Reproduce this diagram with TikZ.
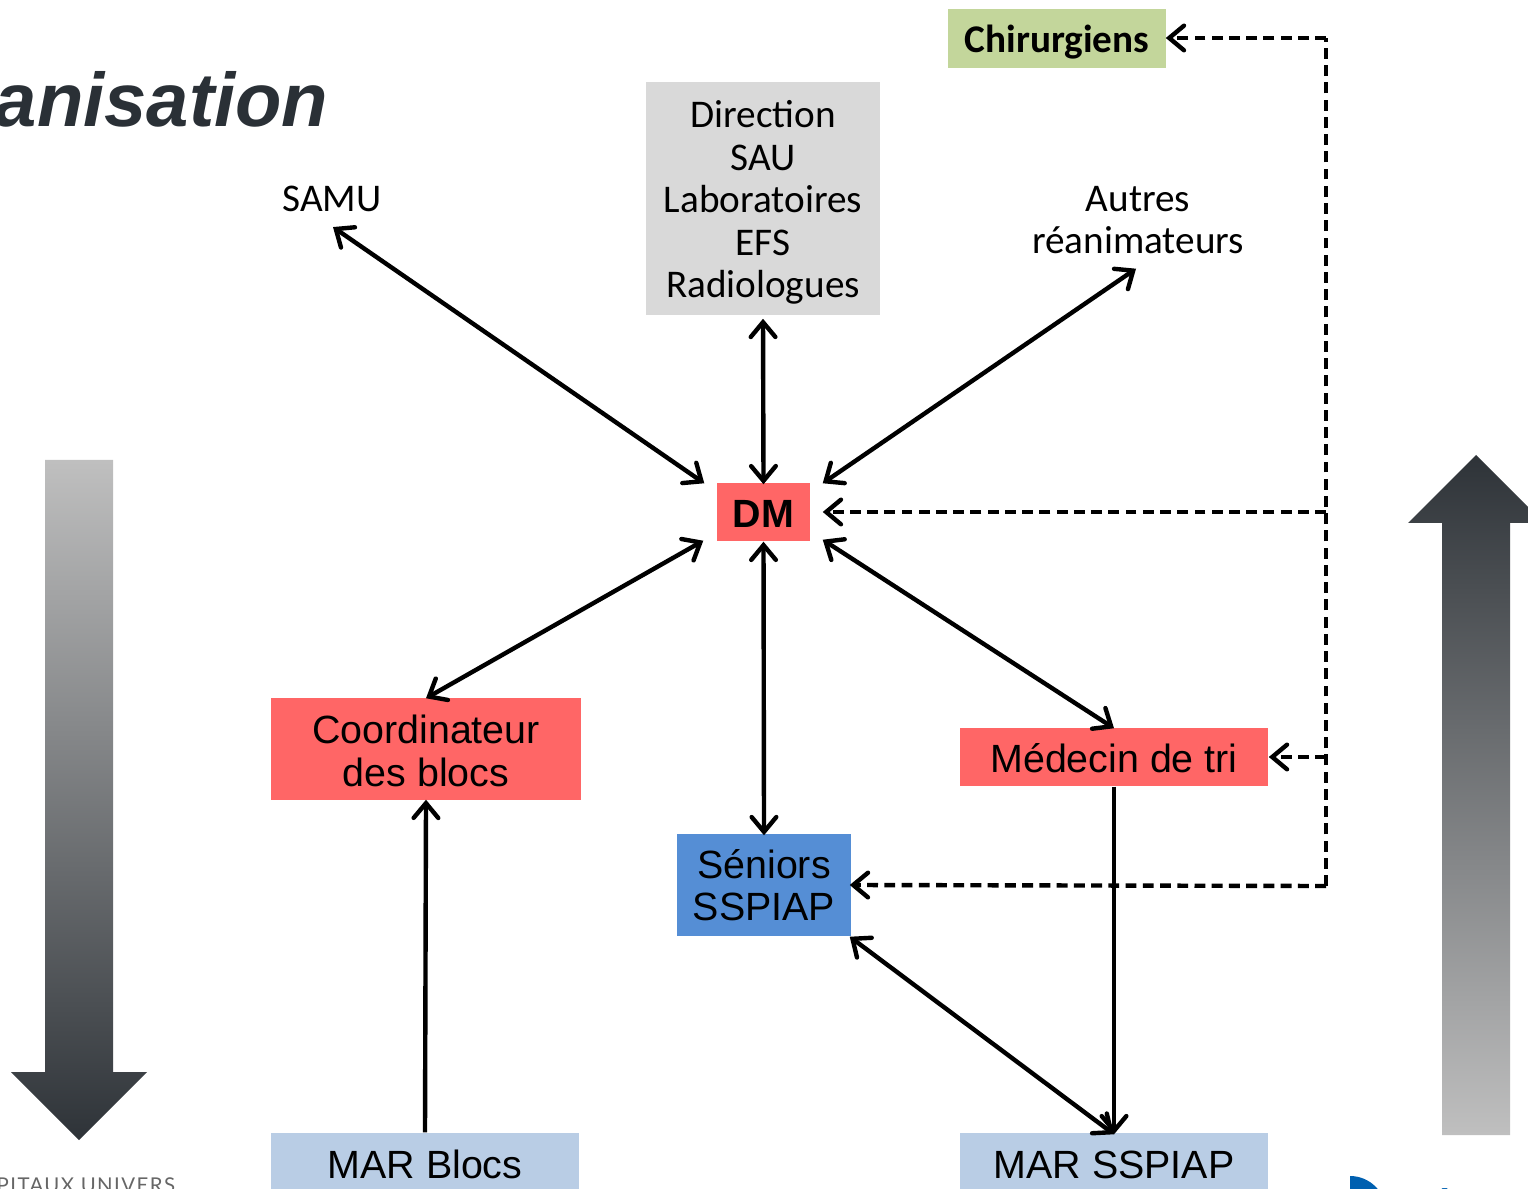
\documentclass[tikz,border=0pt]{standalone}
\usepackage{fontspec}
\usepackage{xcolor}
\usetikzlibrary{arrows.meta}
\setmainfont{Liberation Sans}
\newfontfamily\carlitofont{Carlito}
\newfontfamily\bandeaufont[LetterSpace=7]{Lato}
\definecolor{rouge}{HTML}{FF6666}
\definecolor{bleu}{HTML}{558ED5}
\definecolor{bleuclair}{HTML}{B9CDE5}
\definecolor{grisclair}{HTML}{D9D9D9}
\definecolor{vert}{HTML}{C3D69B}
\definecolor{titre}{HTML}{2A3036}
\definecolor{fleche}{HTML}{2E3338}
\definecolor{logo}{HTML}{0060B0}
\tikzset{
	box/.style={inner sep=0pt, align=center, text=black, font=\fontsize{11.2}{12}\selectfont},
	calibri/.style={inner sep=0pt, align=center, text=black, font=\carlitofont\fontsize{11.15}{12.1}\selectfont},
	both/.style={line width=1.25pt, {Straight Barb[length=4.2pt,width=7pt,line cap=round]}-{Straight Barb[length=4.2pt,width=7pt,line cap=round]}},
	single/.style={line width=1.25pt, -{Straight Barb[length=4.2pt,width=7pt,line cap=round]}},
	pointille/.style={line width=1.25pt, dash pattern=on 3.1pt off 1.8pt},
	pointfleche/.style={pointille, -{Straight Barb[length=4.2pt,width=7pt,line cap=round]}}
}
\begin{document}
\begin{tikzpicture}[x=0.01cm, y=-0.01cm]
	\useasboundingbox (0,0) rectangle (1528,1189);
	\clip (0,0) rectangle (1528,1189);
	\node[anchor=base east, inner sep=0pt, text=titre, font=\bfseries\itshape\fontsize{21.6}{24}\selectfont](titre) at (329,127) {anisation};
	\shade[top color=black!25, middle color=black!50, bottom color=fleche] (45,460) -- (113,460) -- (113,1072) -- (147,1072) -- (79,1140) -- (11,1072) -- (45,1072) -- cycle;
	\shade[top color=fleche, middle color=black!55, bottom color=black!25] (1442,1135) -- (1510,1135) -- (1510,523) -- (1544,523) -- (1476,455) -- (1408,523) -- (1442,523) -- cycle;
	\node[anchor=base west, inner sep=0pt, text=black!60, font=\bandeaufont\fontsize{5.8}{6}\selectfont](bandeau) at (-4,1192) {PITAUX UNIVERS};
	\fill[logo] (1350,1176) arc[start angle=-90, end angle=0, radius=36] -- (1350,1212) -- cycle;
	\node[anchor=base west, inner sep=0pt, text=logo, font=\bfseries\fontsize{11.4}{12}\selectfont](hopital) at (1400,1224) {HÔPITAUX};
	\node[calibri, fill=vert, minimum width=2.18cm, minimum height=0.59cm, text height=8pt, text depth=0pt, font=\carlitofont\bfseries\fontsize{11.15}{12.1}\selectfont](chir) at (1057,38.5) {Chirurgiens};
	\node[calibri, fill=grisclair, minimum width=2.34cm, minimum height=2.33cm](labo) at (763,198.5) {\rule{0pt}{10.1pt}Direction\\SAU\\Laboratoires\\EFS\\Radiologues};
	\node[calibri](samu) at (332,198.5) {SAMU};
	\node[calibri](autres) at (1138,220) {Autres\\réanimateurs};
	\node[box, fill=rouge, minimum width=0.93cm, minimum height=0.58cm, text height=8.7pt, text depth=0pt, font=\bfseries\fontsize{11.2}{12}\selectfont](dm) at (763.5,512) {DM};
	\node[box, fill=rouge, minimum width=3.1cm, minimum height=1.02cm](coord) at (426,749) {\rule{0pt}{9.2pt}Coordinateur\\des blocs};
	\node[box, fill=rouge, minimum width=3.08cm, minimum height=0.58cm, text height=8.7pt, text depth=0pt](tri) at (1114,757) {Médecin de tri};
	\node[box, fill=bleu, minimum width=1.74cm, minimum height=1.02cm](seniors) at (764,885) {Séniors\\SSPIAP};
	\node[box, fill=bleuclair, minimum width=3.08cm, minimum height=0.58cm, text height=9.1pt, text depth=0pt](marblocs) at (425,1162) {MAR Blocs};
	\node[box, fill=bleuclair, minimum width=3.08cm, minimum height=0.58cm, text height=9.1pt, text depth=0pt](marsspiap) at (1114,1162) {MAR SSPIAP};
	\coordinate(haut) at (1326,38);
	\coordinate(bas) at (1326,886);
	\coordinate(milieu) at (1326,512);
	\coordinate(branche) at (1326,757);
	\draw[both]([shift={(1,15)}]samu.south) -- ([shift={(-12,1)}]dm.north west);
	\draw[both]([shift={(0,3)}]labo.south) -- ([shift={(0,2)}]dm.north);
	\draw[both]([shift={(-2,14)}]autres.south) -- ([shift={(12,1)}]dm.north east);
	\draw[both]([shift={(0,1)}]coord.north) -- ([shift={(-13,-1)}]dm.south west);
	\draw[both](dm.south) -- ([shift={(0,2)}]seniors.north);
	\draw[both]([shift={(0,1)}]tri.north) -- ([shift={(12,-2)}]dm.south east);
	\draw[both]([shift={(0,2)}]marsspiap.north) -- ([shift={(-2,0)}]seniors.south east);
	\draw[single](marblocs.north) -- ([shift={(0,-1)}]coord.south);
	\draw[single](tri.south) -- ([shift={(0,2)}]marsspiap.north);
	\draw[pointille](bas) -- (haut);
	\draw[pointfleche](haut) -- ([shift={(-1,0)}]chir.east |- haut);
	\draw[pointfleche](milieu) -- ([shift={(12,0)}]dm.east);
	\draw[pointfleche](branche) -- (tri.east);
	\draw[pointfleche](bas) -- ([shift={(-2,0)}]seniors.east);
\end{tikzpicture}
\end{document}
